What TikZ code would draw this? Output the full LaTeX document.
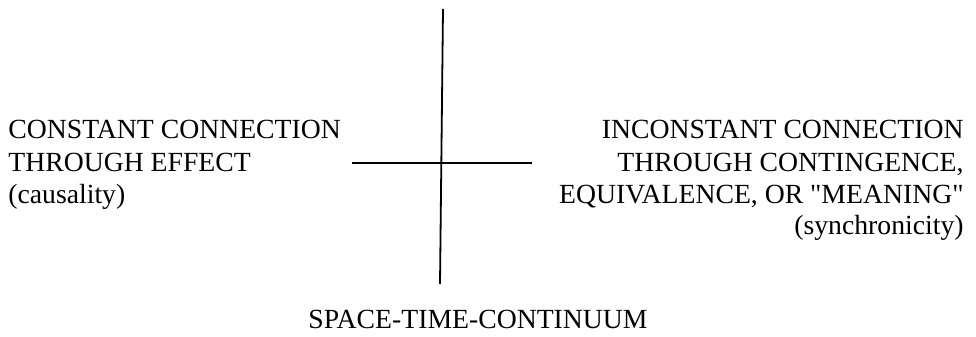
\documentclass[tikz,border=0pt]{standalone}
\usepackage{fontspec}
\setmainfont{Liberation Serif}
\newfontfamily\tnr{Liberation Serif}
\begin{document}
\begin{tikzpicture}[x=0.5pt,y=-0.5pt,
  txt/.style={inner sep=0pt,font=\tnr\fontsize{13.85}{16}\selectfont},
  lft/.style={txt,anchor=base west},
  rgt/.style={txt,anchor=base east},
  ctr/.style={txt,anchor=base},
  axis/.style={line width=0.9pt,black}]
\useasboundingbox (0,0) rectangle (976,337);
% axes
\coordinate (vtop) at (443,9);
\coordinate (vbot) at (440,284);
\coordinate (hleft) at (352,163);
\coordinate (hright) at (532,163);
\draw[axis] (vtop) -- (vbot);
\draw[axis] (hleft) -- (hright);
% left block
\node[lft] (l1) at (8,138) {CONSTANT CONNECTION};
\node[lft] (l2) at (8,171) {THROUGH EFFECT};
\node[lft] (l3) at (8,203) {(causality)};
% right block
\node[rgt] (r1) at (964,138) {INCONSTANT CONNECTION};
\node[rgt] (r2) at (964,171) {THROUGH CONTINGENCE,};
\node[rgt] (r3) at (964,203) {EQUIVALENCE, OR \char34 MEANING\char34};
\node[rgt] (r4) at (964,234) {(synchronicity)};
% bottom
\node[ctr] (b) at (478,328) {SPACE-TIME-CONTINUUM};
\end{tikzpicture}
\end{document}
